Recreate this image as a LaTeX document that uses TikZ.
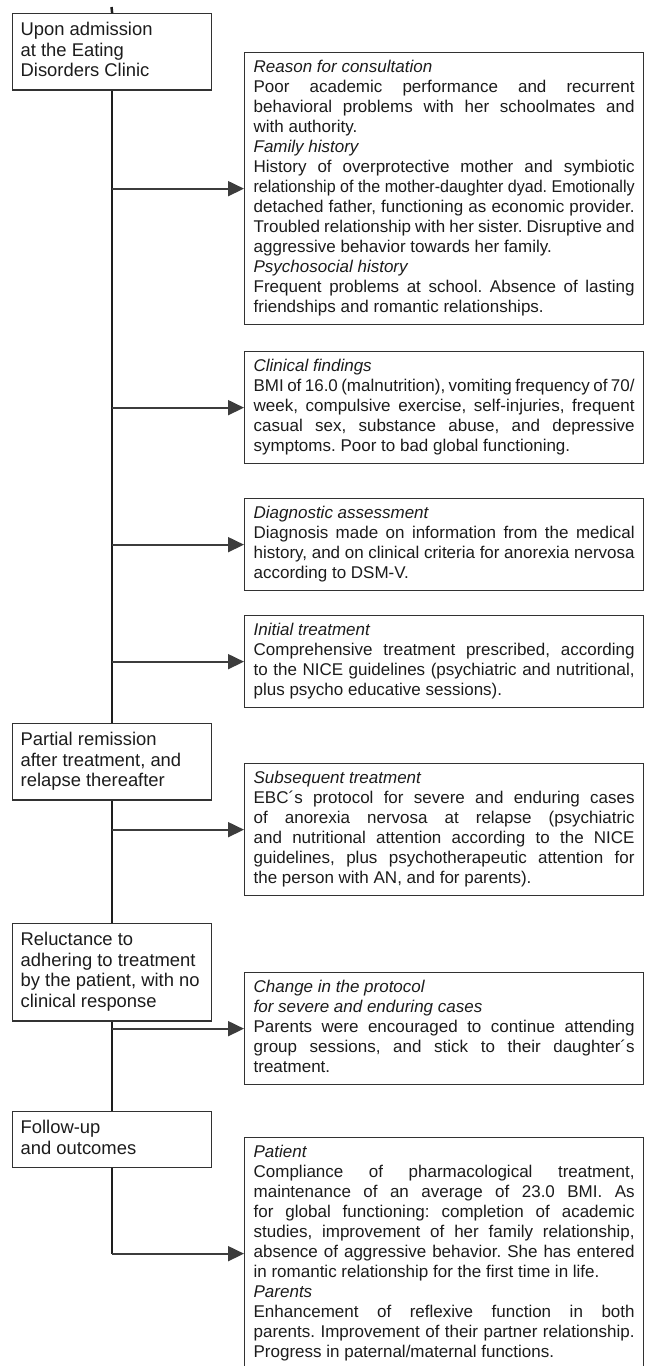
\documentclass[tikz,border=0pt]{standalone}
\usepackage{fontspec}
\setmainfont{Liberation Sans}
\usepackage{xcolor}
\usepackage{graphicx}
\usetikzlibrary{arrows.meta,positioning,calc}
\definecolor{framegray}{RGB}{50,50,50}
\definecolor{spinegray}{RGB}{30,30,30}
\definecolor{branchgray}{RGB}{60,60,60}
\definecolor{textgray}{RGB}{28,28,28}
\tolerance=10000
\hbadness=10000
\hyphenpenalty=10000
\frenchspacing

\begin{document}
\begin{tikzpicture}[x=1pt,y=-1pt]

    \tikzstyle{every node}=[text=textgray]
    \tikzstyle{stage}=[draw=framegray, line width=1.3pt, fill=white, anchor=north west,
        text width=183pt, inner xsep=8pt, inner ysep=7pt, align=flush left,
        font=\fontsize{18.4}{20.8}\selectfont]
    \tikzstyle{detail}=[draw=framegray, line width=1.3pt, fill=white, anchor=north west,
        text width=381pt, inner xsep=9pt, inner ysep=6pt, align=justify,
        font=\fontsize{17}{20}\selectfont]
    \tikzstyle{spine}=[draw=spinegray, line width=2.5pt]
    \tikzstyle{branch}=[draw=branchgray, line width=1.8pt, -{Triangle[length=16pt,width=15pt]}]

    \useasboundingbox (0,0) rectangle (647,1366);

    % stages on the left
    \node[stage] (adm) at (12,13) {\strut Upon admission\\at the Eating\\Disorders Clinic\strut};
    \node[stage] (rem) at (12,723) {\strut Partial remission\\after treatment, and\\relapse thereafter\strut};
    \node[stage] (rel) at (12,923) {\strut Reluctance to\\adhering to treatment\\by the patient, with no\\clinical response\strut};
    \node[stage] (fol) at (12,1111) {\strut Follow-up\\and outcomes\strut};

    % details on the right
    \node[detail] (cons) at (244,52) {\strut\textit{Reason for consultation}\\
        Poor academic performance and recurrent\linebreak
        behavioral problems with her schoolmates and\linebreak
        with authority.\\
        \textit{Family history}\\
        History of overprotective mother and symbiotic\linebreak
        \resizebox{\linewidth}{\height}{relationship of the mother-daughter dyad. Emotionally}\linebreak
        detached father, functioning as economic provider.\linebreak
        Troubled relationship with her sister. Disruptive and\linebreak
        aggressive behavior towards her family.\\
        \textit{Psychosocial history}\\
        Frequent problems at school. Absence of lasting\linebreak
        friendships and romantic relationships.\strut};
    \node[detail] (find) at (244,351) {\strut\textit{Clinical findings}\\
        BMI of 16.0 (malnutrition), vomiting frequency of 70/\linebreak
        week, compulsive exercise, self-injuries, frequent\linebreak
        casual sex, substance abuse, and depressive\linebreak
        symptoms. Poor to bad global functioning.\strut};
    \node[detail] (diag) at (244,498) {\strut\textit{Diagnostic assessment}\\
        Diagnosis made on information from the medical\linebreak
        history, and on clinical criteria for anorexia nervosa\linebreak
        according to DSM-V.\strut};
    \node[detail] (init) at (244,615) {\strut\textit{Initial treatment}\\
        Comprehensive treatment prescribed, according\linebreak
        to the NICE guidelines (psychiatric and nutritional,\linebreak
        plus psycho educative sessions).\strut};
    \node[detail] (subs) at (244,763) {\strut\textit{Subsequent treatment}\\
        EBC´s protocol for severe and enduring cases\linebreak
        of anorexia nervosa at relapse (psychiatric\linebreak
        and nutritional attention according to the NICE\linebreak
        guidelines, plus psychotherapeutic attention for\linebreak
        the person with AN, and for parents).\strut};
    \node[detail] (chg) at (244,972) {\strut\textit{Change in the protocol}\\
        \textit{for severe and enduring cases}\\
        Parents were encouraged to continue attending\linebreak
        group sessions, and stick to their daughter´s\linebreak
        treatment.\strut};
    \node[detail] (outc) at (244,1137) {\strut\textit{Patient}\\
        Compliance of pharmacological treatment,\linebreak
        maintenance of an average of 23.0 BMI. As\linebreak
        for global functioning: completion of academic\linebreak
        studies, improvement of her family relationship,\linebreak
        absence of aggressive behavior. She has entered\linebreak
        in romantic relationship for the first time in life.\\
        \textit{Parents}\\
        Enhancement of reflexive function in both\linebreak
        parents. Improvement of their partner relationship.\linebreak
        Progress in paternal/maternal functions.\strut};

    % time line
    \coordinate (top) at (111.5,7);
    \path[spine] (top) -- (adm.north);
    \path[spine] (adm.south) -- (rem.north);
    \path[spine] (rem.south) -- (rel.north);
    \path[spine] (rel.south) -- (fol.north);
    \path[spine] (fol.south) -- (outc.west -| fol.south);

    \foreach \d in {cons,find,diag,init,subs,chg,outc}
        \path[branch] (\d.west -| top) -- (\d.west);

\end{tikzpicture}
\end{document}
